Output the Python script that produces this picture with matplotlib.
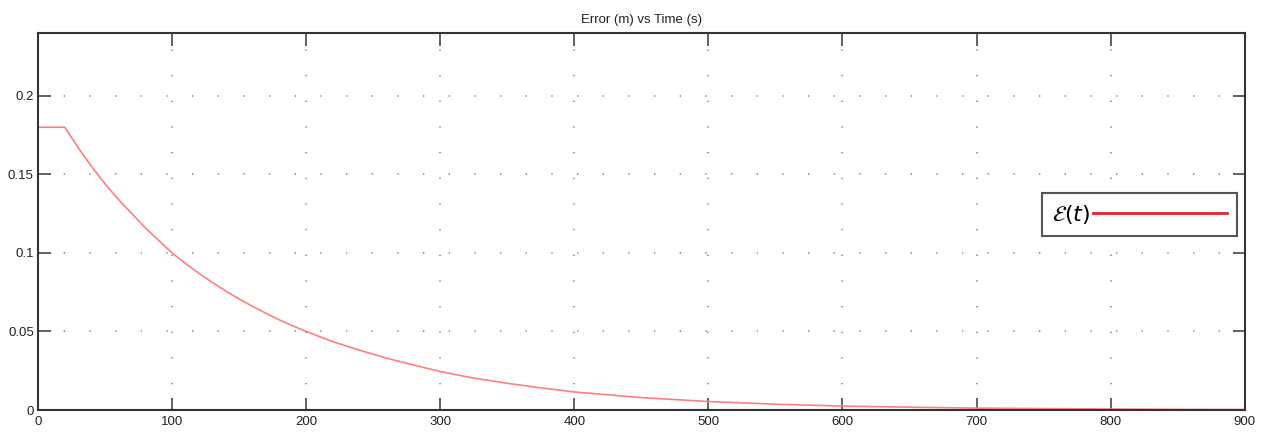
import matplotlib
matplotlib.use("Agg")
import matplotlib.pyplot as plt
from matplotlib.lines import Line2D

# error vs time
time_s = [0, 20, 30, 40, 50, 60, 70, 80, 90, 100, 110, 120, 130, 140, 150,
          160, 170, 180, 190, 200, 220, 240, 260, 280, 300, 325, 350, 375, 400,
          450, 500, 550, 600, 650, 700, 750, 800, 850, 900]
error_m = [0.18, 0.18, 0.167, 0.155, 0.144, 0.134, 0.125, 0.116, 0.108, 0.100,
           0.0933, 0.0871, 0.0812, 0.0758, 0.0707, 0.0660, 0.0616, 0.0574,
           0.0536, 0.0500, 0.0435, 0.0380, 0.0330, 0.0287, 0.0245, 0.0203,
           0.0170, 0.0141, 0.0115, 0.0079, 0.0054, 0.0037, 0.0025, 0.0018,
           0.0012, 0.0009, 0.0006, 0.0004, 0.0003]
x_ticks = [0, 100, 200, 300, 400, 500, 600, 700, 800, 900]
y_ticks = [0, 0.05, 0.1, 0.15, 0.2]
y_tick_labels = ["0", "0.05", "0.1", "0.15", "0.2"]

plt.rcParams["font.family"] = ["Liberation Sans", "DejaVu Sans"]

fig = plt.figure(figsize=(12.65, 4.32), dpi=100)
ax = fig.add_axes([0.030, 0.0509, 0.954, 0.8727])

ax.plot(time_s, error_m, color="#ff7f7f", lw=1.2)

ax.set_xlim(0, 900)
ax.set_ylim(0, 0.24)
ax.set_xticks(x_ticks)
ax.set_yticks(y_ticks)
ax.set_yticklabels(y_tick_labels)
ax.tick_params(direction="in", length=9, width=1.3, colors="#555",
               labelcolor="#222", labelsize=9.5, top=True, right=True, pad=3)
ax.tick_params(axis="x", pad=4)
for s in ax.spines.values():
    s.set_color("#333")
    s.set_linewidth(1.5)

ax.grid(True, color="#8a8a8a", lw=1.2, linestyle=(0, (0.8, 14.6)))
ax.set_title("Error (m) vs Time (s)", fontsize=9.5, color="#222", pad=7)

handle = Line2D([], [], color="#e8202a", lw=2)
leg = ax.legend([handle], [r"$\mathcal{E}(t)$"], loc="center",
                bbox_to_anchor=(0.9125, 0.519), fontsize=16, markerfirst=False,
                fancybox=False, edgecolor="#555", framealpha=1,
                handlelength=6.0, handletextpad=0.15, borderpad=0.45)
leg.get_frame().set_linewidth(1.5)

fig.savefig("out.png", dpi=100)
